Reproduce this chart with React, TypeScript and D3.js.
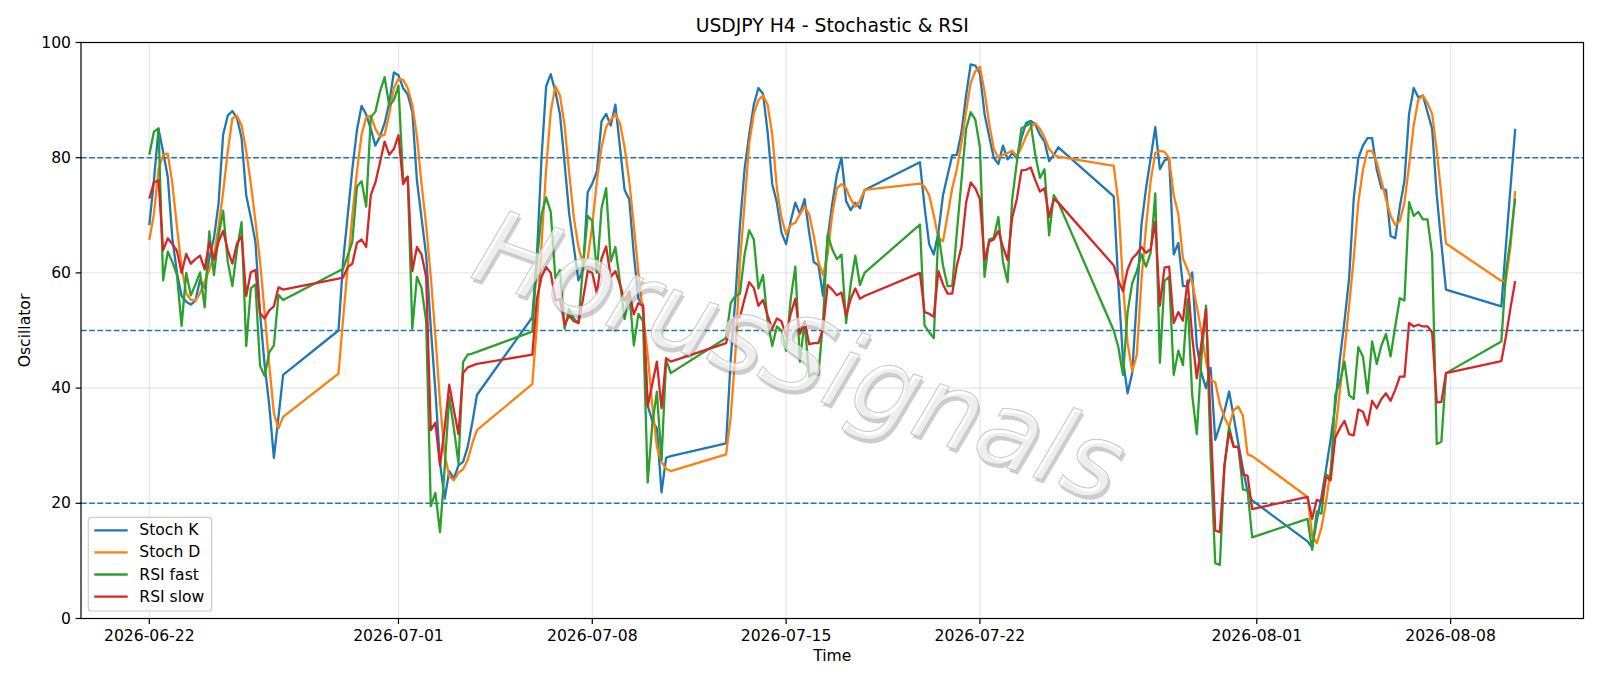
import React from "react";
import * as d3 from "d3";

// ---------- DATA ----------
// H4 trading sessions (start time, number of consecutive 4h bars)
const sessionStarts = [
  "2026-06-22T00:00:00Z",
  "2026-06-28T20:00:00Z",
  "2026-07-05T20:00:00Z",
  "2026-07-12T20:00:00Z",
  "2026-07-19T20:00:00Z",
  "2026-07-26T20:00:00Z",
  "2026-08-02T20:00:00Z",
  "2026-08-09T20:00:00Z",
];
const sessionBars = [30, 31, 31, 31, 31, 31, 31, 4];

const stochK = [
  68.3, 76, 85, 81, 76.7, 66, 60, 56, 55, 54.5,
  55.2, 58.8, 57.4, 62.5, 66, 72, 84, 87.3, 88.1, 86.9,
  83.4, 73.5, 69.6, 65.4, 53, 44, 37, 27.9, 35, 42.3,
  50, 62, 70, 78, 84.8, 89, 87.5, 85, 82.1, 83.7,
  86, 89.5, 94.8, 94.3, 92.1, 91, 88, 76, 69.5, 63,
  50.5, 39.5, 27, 20.8, 25.6, 24.3, 26.6, 27.2, 29.8, 34,
  38.8, 52.3, 63, 80, 92.4, 94.5, 91.5, 87.5, 79, 70.2,
  64.5, 58.7, 60.6, 74, 75.5, 77.6, 86.3, 87.6, 85.6, 89.2,
  81.8, 74.4, 72.8, 63.2, 55.5, 54.5, 37, 34.3, 33, 21.9,
  27.9, 28.2, 30.4, 45, 55.5, 68.3, 78, 84, 89.2, 92.1,
  91.1, 84.4, 75.4, 72.2, 67, 65, 69, 72.2, 70.2, 72.8,
  67, 61.9, 61.3, 56, 66, 72, 77, 80, 72.5, 70.9,
  72.2, 71.2, 74.4, 79.2, 71.5, 65, 63.2, 67, 73.5, 77,
  80.4, 80.5, 84.4, 90.8, 96.2, 96, 94.6, 87.6, 83.7, 80,
  78.9, 82.1, 79.7, 80.8, 79.9, 83.4, 86, 86.4, 85.8, 84,
  82.8, 79.4, 80.5, 81.8, 73.3, 58, 45, 39.1, 42.6, 55.5,
  68.3, 74.7, 79.9, 85.3, 78, 79.5, 79.9, 63.2, 65.2, 57.7,
  57.7, 60.1, 47.4, 42.6, 40, 43.5, 31, 33.5, 36, 39.4,
  35, 30.4, 26, 22, 20.5, 13.4, 12.3, 17, 21, 25.9,
  31.1, 37, 45, 51.6, 59, 72.8, 79.9, 82.1, 83.4, 83.4,
  77.9, 74.7, 74.4, 66.4, 66, 71.5, 76, 87.6, 92.1, 90.5,
  90.8, 87.9, 85, 73.5, 65.1, 57.1, 54.2, 64.9, 75, 85,
];

const stochD = [
  65.7, 70.2, 78, 80.5, 80.7, 75.5, 68, 61, 56.5, 55.3,
  55.2, 56.5, 58.5, 60.5, 63, 68, 74, 81, 86.8, 87.3,
  85.6, 81.2, 75.5, 69, 62, 53, 44, 35.6, 33, 35,
  42.5, 52, 61, 70, 77.6, 84, 87, 87.3, 85, 83.7,
  84, 87.6, 92.1, 93.7, 93.5, 92.1, 89.2, 83.7, 75.4, 68.3,
  59.3, 49, 37.5, 28.5, 24.7, 24, 25.3, 25.9, 27.5, 30.4,
  32.7, 40.7, 51, 65, 78, 88, 92.4, 90.8, 85.6, 77.3,
  69.6, 64.5, 61.6, 62.5, 68.3, 76, 81.8, 85.3, 86.6, 87.6,
  86, 81.8, 76, 68.3, 60, 52.9, 45.8, 37, 29.8, 27.2,
  26, 25.6, 28.5, 35, 45.8, 61.9, 72, 82.4, 87.6, 90,
  90.8, 89.2, 84, 74.7, 69.6, 66.7, 68.3, 68.7, 70.2, 71.5,
  70.2, 66.4, 61.9, 59.6, 63.2, 70.2, 74.7, 75.4, 74.7, 72.8,
  71.5, 72.5, 74.4, 75.5, 75, 73.5, 70, 66, 65.5, 70,
  74.7, 78, 82.5, 88, 93, 95, 95.8, 91.5, 86, 81.5,
  80, 80.5, 80.8, 81.2, 80.2, 81.8, 83.7, 85.3, 86, 85,
  83.5, 81.5, 80.5, 80.2, 78.6, 72.2, 58, 47.8, 42.9, 45.8,
  58.7, 68, 76, 80.8, 81.2, 81, 79.9, 73.5, 70.2, 62.5,
  60.6, 58.4, 54.2, 49.7, 44.6, 41.4, 41, 37.2, 34.9, 33.3,
  36.2, 36.8, 35.2, 28.5, 28.2, 21.1, 14.4, 13.1, 15.7, 20.2,
  25.9, 32.4, 39.4, 46.5, 54.2, 62.5, 72.2, 77.9, 81.2, 81.2,
  79.2, 76, 72.8, 69.9, 68.3, 69, 72.2, 78.6, 85.6, 90.1,
  90.8, 89.5, 87.6, 81.2, 73.5, 65.1, 58.6, 58.7, 64.7, 74.2,
];

const rsiFast = [
  80.5, 84.5, 85.1, 58.7, 63.7, 61.9, 59.6, 50.8, 60, 56.1,
  58, 60.1, 54, 67.2, 59.6, 66.4, 70.8, 62, 57.7, 64,
  68.8, 47.3, 57.3, 58, 43.9, 42.1, 46.2, 47.4, 56.2, 55.3,
  60.3, 60.7, 63, 65.4, 75, 75.9, 71.5, 87, 88, 91.5,
  94, 89, 90, 92.5, 76, 76.7, 50.3, 59.3, 57.4, 51.6,
  19.5, 21.8, 15, 26, 38.5, 33, 27, 44.5, 45.8, 46,
  46.3, 49.8, 62, 70.2, 73.1, 70.6, 59, 60.5, 50.3, 53.7,
  52, 51.3, 61.3, 69.9, 69, 60, 71.2, 74.7, 62, 64.5,
  58.4, 52, 56.8, 47.4, 52.9, 51.6, 23.6, 33.7, 39.4, 27.5,
  44.9, 42.6, 48.7, 54.8, 56, 56.4, 63.2, 67.4, 65.8, 57.3,
  59.6, 51.6, 47.3, 50.7, 50, 46.5, 55.5, 61.1, 44.6, 51.6,
  42, 42.6, 42.3, 51.6, 66.7, 64.1, 62.4, 63.2, 51.3, 58,
  63, 57.9, 60, 68.4, 50.9, 49.7, 48.7, 67, 61.3, 57.7,
  57.7, 67, 76, 85, 87.9, 86.6, 81.8, 59.3, 65.8, 66.1,
  69.7, 61.9, 58.4, 72.8, 79.2, 85.1, 85.5, 86, 80.5, 76.5,
  78, 66.5, 73.5, 72.2, 50, 47.1, 42.3, 53.2, 58.2, 60.3,
  63.2, 61.1, 63.5, 73.8, 44.4, 58.6, 59.3, 42.3, 46.5, 44,
  55.5, 38.8, 32, 45.2, 54.3, 28, 9.6, 9.3, 26.6, 33.3,
  29.8, 29.8, 22.4, 22.2, 14.1, 17.3, 11.9, 18.6, 18.2, 25,
  24.5, 38.8, 41, 44.6, 38.8, 38.1, 47.1, 45.5, 39.1, 48.1,
  44.2, 47.4, 49.4, 45.5, 50.7, 55.6, 55.2, 72.3, 69.9, 70.6,
  69.3, 69.3, 63.2, 30.3, 30.7, 42.6, 48.1, 60, 66, 72.9,
];

const rsiSlow = [
  72.9, 75.7, 76.1, 63.9, 66, 65, 63.8, 60, 63.3, 61.6,
  62.4, 63, 60.6, 65.4, 62.3, 65.4, 67.3, 64, 61.6, 65.1,
  66.4, 56, 60.1, 60.5, 53, 52.1, 53.5, 54.2, 57.5, 57.1,
  59, 59.2, 61, 61.6, 65.2, 65.8, 64.5, 73.5, 75.7, 79.2,
  82.8, 80.5, 81.5, 83.9, 75.4, 76.7, 60.3, 64.5, 63.2, 59.3,
  32.7, 34, 26.6, 33, 40.6, 36.2, 32, 42.6, 43.6, 43.9,
  44.2, 45.8, 55.5, 59.3, 61, 60, 55.2, 55.5, 51, 52.6,
  51.6, 51.3, 55.5, 60.3, 60, 56.4, 62.5, 64.6, 59.3, 60.3,
  58, 55.2, 56.8, 52.8, 54.8, 54.2, 36.8, 40.7, 44.6, 36.5,
  45.2, 44.6, 47.8, 51.3, 52.3, 52.3, 55.5, 58.4, 57.4, 54.3,
  55.3, 52.6, 50.3, 52.1, 51.6, 49, 52.9, 55.5, 49.4, 51.6,
  47.6, 47.8, 47.8, 50.3, 57.9, 57.1, 56.1, 56.6, 52.6, 55.5,
  57.3, 55.5, 56, 60, 53.2, 52.9, 52.4, 60.3, 58, 56.4,
  56.4, 61.3, 64.5, 72.2, 75.7, 74.7, 72.8, 62.2, 65.4, 65.8,
  67.3, 64.5, 62.2, 69.6, 72.8, 77.8, 77.9, 78.3, 76.1, 74.1,
  74.7, 69.7, 72.8, 72.2, 61.3, 58.7, 56.8, 60.6, 62.5, 63.3,
  64.5, 63.5, 64.1, 68.9, 54.3, 60.9, 61.1, 51.3, 53.2, 51.7,
  58.7, 49, 41.7, 47.8, 53.7, 34.3, 15.3, 15, 26.6, 32.4,
  29.8, 29.8, 25, 24.8, 19, 21.1, 17.3, 20.6, 20.3, 24.6,
  24, 31.4, 33, 34.3, 32, 31.8, 36.3, 35.9, 33.6, 37.8,
  36.5, 38.1, 39.1, 37.8, 39.7, 42, 42, 51.3, 50.7, 51,
  50.7, 50.7, 49.7, 37.5, 37.6, 42.6, 44.7, 49, 54, 58.6,
];

const seriesNames = ["Stoch K", "Stoch D", "RSI fast", "RSI slow"];
const seriesColors = ["#1f77b4", "#ff7f0e", "#2ca02c", "#d62728"];
const xTickLabels = ["2026-06-22", "2026-07-01", "2026-07-08", "2026-07-15", "2026-07-22", "2026-08-01", "2026-08-08"];
const yTickValues = [0, 20, 40, 60, 80, 100];
const levelLines = [20, 50, 80];
const titleText = "USDJPY H4 - Stochastic & RSI";
const watermarkText = "HorusSignals";

// ---------- LAYOUT ----------
const W = 1600;
const H = 686;
const plot = { left: 81, right: 1583.5, top: 42.5, bottom: 618.5 };
const FONT = "DejaVu Sans, Liberation Sans, sans-serif";
const FS = 15.6;

function buildTimes(): Date[] {
  const out: Date[] = [];
  sessionStarts.forEach((s, j) => {
    const t0 = new Date(s).getTime();
    for (let k = 0; k < sessionBars[j]; k++) out.push(new Date(t0 + k * 4 * 3600 * 1000));
  });
  return out;
}

export default function App() {
  const times = buildTimes();
  const series = [stochK, stochD, rsiFast, rsiSlow];
  const tMin = times[0].getTime();
  const tMax = times[times.length - 1].getTime();
  const pad = (tMax - tMin) * 0.05;
  const x = d3.scaleUtc().domain([new Date(tMin - pad), new Date(tMax + pad)]).range([plot.left, plot.right]);
  const y = d3.scaleLinear().domain([0, 100]).range([plot.bottom, plot.top]);
  const xTicks = xTickLabels.map((s) => new Date(s + "T00:00:00Z"));
  const fmt = d3.utcFormat("%Y-%m-%d");

  const makeLine = (vals: number[]) =>
    d3
      .line<number>()
      .x((_, i) => x(times[i]))
      .y((v) => y(v))(vals.slice(0, times.length)) || "";

  const cx = 800;
  const cy = 356;

  return (
    <svg
      width={W}
      height={H}
      viewBox={`0 0 ${W} ${H}`}
      style={{ position: "absolute", left: 0, top: 0, display: "block", background: "#fff" }}
      fontFamily={FONT}
    >
      <rect x={0} y={0} width={W} height={H} fill="#fff" />
      <defs>
        <clipPath id="plotclip">
          <rect x={plot.left} y={plot.top} width={plot.right - plot.left} height={plot.bottom - plot.top} />
        </clipPath>
      </defs>
      {/* grid */}
      <g stroke="#b0b0b0" strokeOpacity={0.3} strokeWidth={1.2}>
        {xTicks.map((t, i) => (
          <line key={"gx" + i} x1={x(t)} x2={x(t)} y1={plot.top} y2={plot.bottom} />
        ))}
        {yTickValues.map((v, i) => (
          <line key={"gy" + i} x1={plot.left} x2={plot.right} y1={y(v)} y2={y(v)} />
        ))}
      </g>
      {/* level lines */}
      <g stroke="#1f77b4" strokeWidth={1.5} strokeDasharray="5.7,2.5">
        {levelLines.map((v) => (
          <line key={"lv" + v} x1={plot.left} x2={plot.right} y1={y(v)} y2={y(v)} />
        ))}
      </g>
      {/* series */}
      <g clipPath="url(#plotclip)" fill="none" strokeWidth={2.3} strokeLinejoin="round" strokeLinecap="butt">
        {series.map((s, i) => (
          <path key={"s" + i} d={makeLine(s)} stroke={seriesColors[i]} />
        ))}
      </g>
      {/* watermark */}
      <g transform={`translate(${cx},${cy}) rotate(19.5)`} fontFamily={FONT} fontStyle="italic" fontSize={104}>
        <text x={3} y={3} textAnchor="middle" dominantBaseline="central" fill="#4d4d4d" fillOpacity={0.28}>
          {watermarkText}
        </text>
        <text x={0} y={0} textAnchor="middle" dominantBaseline="central" fill="#ffffff" fillOpacity={0.65} stroke="#c8c8c8" strokeWidth={1}>
          {watermarkText}
        </text>
      </g>
      {/* frame */}
      <rect x={plot.left} y={plot.top} width={plot.right - plot.left} height={plot.bottom - plot.top} fill="none" stroke="#000" strokeWidth={1.2} />
      {/* axes */}
      <g fontSize={FS} fill="#000">
        {xTicks.map((t, i) => (
          <g key={"xt" + i}>
            <line x1={x(t)} x2={x(t)} y1={plot.bottom} y2={plot.bottom + 5.4} stroke="#000" strokeWidth={1.2} />
            <text x={x(t)} y={plot.bottom + 11} textAnchor="middle" dominantBaseline="hanging">
              {fmt(t)}
            </text>
          </g>
        ))}
        {yTickValues.map((v, i) => (
          <g key={"yt" + i}>
            <line x1={plot.left - 5.4} x2={plot.left} y1={y(v)} y2={y(v)} stroke="#000" strokeWidth={1.2} />
            <text x={plot.left - 10} y={y(v)} textAnchor="end" dominantBaseline="central">
              {v}
            </text>
          </g>
        ))}
        <text x={(plot.left + plot.right) / 2} y={656} textAnchor="middle" dominantBaseline="central">
          Time
        </text>
        <text transform={`translate(24.5,${(plot.top + plot.bottom) / 2}) rotate(-90)`} textAnchor="middle" dominantBaseline="central">
          Oscillator
        </text>
      </g>
      <text x={(plot.left + plot.right) / 2} y={25.5} textAnchor="middle" dominantBaseline="central" fontSize={18.8} fill="#000">
        {titleText}
      </text>
      {/* legend */}
      <g>
        <rect x={88.3} y={517.3} width={123.4} height={93.7} rx={3} ry={3} fill="#fff" fillOpacity={0.8} stroke="#cccccc" strokeWidth={1.2} />
        {seriesNames.map((n, i) => (
          <g key={"lg" + i}>
            <line x1={94.3} x2={127.7} y1={530.3 + i * 22.1} y2={530.3 + i * 22.1} stroke={seriesColors[i]} strokeWidth={2.3} />
            <text x={139.3} y={530.3 + i * 22.1} dominantBaseline="central" fontSize={FS} fill="#000">
              {n}
            </text>
          </g>
        ))}
      </g>
    </svg>
  );
}
